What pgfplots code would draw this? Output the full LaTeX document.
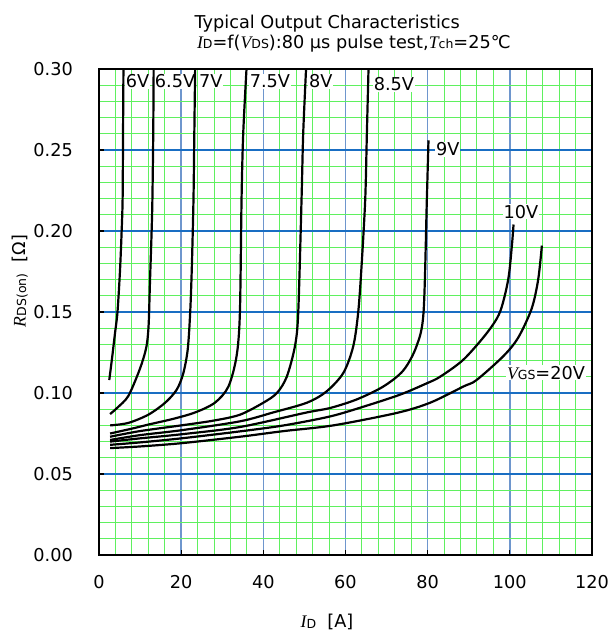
\documentclass[border=0pt]{standalone}
\usepackage{pgfplots}
\pgfplotsset{compat=1.18}
\usepackage{fontspec}
\setmainfont{DejaVu Sans}
\newfontfamily\tnr{Liberation Serif}
\newcommand{\iv}[1]{{\tnr\itshape #1}}
\newcommand{\sbs}[1]{\raisebox{-0.4bp}{\fontsize{12.5bp}{13bp}\selectfont #1}}
\definecolor{majv}{RGB}{110,150,205}
\definecolor{majh}{RGB}{25,110,195}
\definecolor{mingr}{RGB}{95,240,95}
\begin{document}
\fontsize{17.7bp}{21bp}\selectfont
\begin{tikzpicture}
\useasboundingbox (0,0) rectangle (610bp,635bp);
\begin{axis}[
  at={(99bp,80bp)}, anchor=south west,
  scale only axis, width=493bp, height=486bp,
  xmin=0, xmax=120, ymin=0, ymax=0.30,
  xtick={0,20,40,60,80,100,120},
  ytick={0,0.05,0.10,0.15,0.20,0.25,0.30},
  minor x tick num=4, minor y tick num=4,
  grid=both,
  major x grid style={majv, line width=1.5bp},
  major y grid style={majh, line width=1.5bp},
  minor x grid style={mingr, line width=1bp},
  minor y grid style={mingr, line width=1bp},
  axis line style={black, line width=1.5bp},
  tick align=inside, major tick length=5bp, minor tick length=0pt,
  tick style={black, line width=1.2bp},
  xtick pos=lower, ytick pos=left,
  /pgf/number format/assume math mode=true,
  yticklabel style={/pgf/number format/fixed, /pgf/number format/fixed zerofill, /pgf/number format/precision=2, xshift=-20bp},
  xticklabel style={anchor=base, yshift=-33bp},
  clip mode=individual,
  every axis plot post/.append style={black, solid, mark=none, line width=2.2bp, smooth, tension=0.5},
]
\begin{scope}[every node/.style={fill=white, inner sep=0.8bp}]
\node at (axis cs:9.4,0.2925) {6V};
\node at (axis cs:18.5,0.2925) {6.5V};
\node at (axis cs:27.2,0.2925) {7V};
\node at (axis cs:41.6,0.2925) {7.5V};
\node at (axis cs:54.0,0.2925) {8V};
\node at (axis cs:71.8,0.2907) {8.5V};
\node at (axis cs:84.9,0.2505) {9V};
\node at (axis cs:102.7,0.212) {10V};
\node at (axis cs:108.8,0.1125) {\iv{V}\sbs{GS}=20V};
\end{scope}
% 6V
\addplot coordinates {(2.5,0.108) (3.2,0.122) (3.9,0.137) (4.5,0.150) (5.1,0.175) (5.5,0.199) (5.75,0.22) (5.85,0.26) (5.95,0.30)};
% 6.5V
\addplot coordinates {(2.7,0.087) (4.5,0.091) (7.1,0.098) (9.6,0.1125) (11.0,0.123) (11.7,0.131) (12.1,0.143) (12.4,0.168) (12.8,0.199) (13.0,0.22) (13.2,0.26) (13.3,0.30)};
% 7V
\addplot coordinates {(2.7,0.080) (7.1,0.0815) (12,0.0866) (16.1,0.094) (18.9,0.102) (20.5,0.112) (21.6,0.127) (22.2,0.150) (22.6,0.178) (23.0,0.22) (23.2,0.26) (23.4,0.30)};
% 7.5V
\addplot coordinates {(2.7,0.075) (8,0.078) (12,0.0805) (18,0.084) (23.4,0.088) (28.2,0.094) (31.5,0.104) (33.5,0.123) (34.3,0.150) (34.7,0.22) (35.1,0.26) (35.9,0.30)};
% 8V
\addplot coordinates {(2.7,0.073) (10,0.0765) (20,0.080) (28,0.083) (34.3,0.0866) (40,0.094) (43.3,0.100) (45.7,0.110) (47.7,0.129) (48.5,0.150) (49.3,0.2195) (49.7,0.26) (50.4,0.30)};
% 8.5V
\addplot coordinates {(2.7,0.071) (10,0.074) (20,0.077) (34.3,0.0825) (42.4,0.088) (50.6,0.094) (55.4,0.101) (59.5,0.1125) (61.9,0.129) (63.1,0.150) (63.9,0.178) (64.8,0.2195) (65.2,0.26) (65.6,0.30)};
% 9V
\addplot coordinates {(2.7,0.070) (10,0.072) (20,0.0745) (34.3,0.079) (50.6,0.088) (56.2,0.0907) (62.7,0.096) (69.2,0.104) (74.1,0.114) (77.3,0.129) (79.0,0.150) (79.8,0.2195) (80.2,0.256)};
% 10V
\addplot coordinates {(2.7,0.068) (10,0.0695) (20,0.072) (34.3,0.0763) (45,0.080) (56.2,0.0855) (64.3,0.0915) (73.3,0.099) (79.8,0.106) (83,0.110) (88.7,0.1206) (94.4,0.137) (97.6,0.150) (99.6,0.170) (100.5,0.191) (100.9,0.204)};
% 20V
\addplot coordinates {(2.7,0.066) (10,0.067) (20,0.069) (34.3,0.073) (45,0.0765) (57,0.080) (72.5,0.0877) (80.6,0.094) (88.7,0.104) (91.9,0.108) (98.4,0.1227) (102,0.134) (105.3,0.152) (106.9,0.170) (107.8,0.191)};

\node[anchor=base] at (rel axis cs:0.463,1.084) {Typical Output Characteristics};
\node[anchor=base] at (rel axis cs:0.517,1.043) {\iv{I}\sbs{D}=f(\iv{V}\sbs{DS}):80 μs pulse test,\iv{T}\sbs{ch}=25℃};
\node[anchor=base] at (rel axis cs:0.4625,-0.150) {\iv{I}\sbs{D}\ \ [A]};
\node[rotate=90, anchor=center] at (rel axis cs:-0.160,0.564) {\iv{R}\sbs{DS(on)}\ \ [Ω]};
\end{axis}
\end{tikzpicture}
\end{document}
